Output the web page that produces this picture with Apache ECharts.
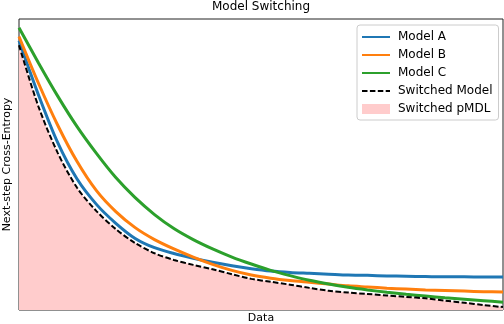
<!DOCTYPE html>
<html>
<head>
<meta charset="utf-8">
<script src="https://cdn.jsdelivr.net/npm/echarts@6/dist/echarts.min.js"></script>
<style>
  html, body { margin: 0; padding: 0; background: #fff; }
  #main { width: 504px; height: 324px; }
</style>
</head>
<body>
<div id="main"></div>
<script>
  // amount of data seen (x), arbitrary units 0..100
  var xs = [0, 4, 8, 12, 16, 20, 24, 28, 32, 36, 40, 44, 48, 52, 56, 60, 64, 68, 72, 76, 80, 84, 88, 92, 96, 100]
  // next-step cross-entropy, arbitrary units 0..100
  var modelA = [92.5, 74, 57.5, 45, 36.3, 29.8, 24.6, 21.4, 19.4, 17.8, 16.4, 15.2, 14.2, 13.4, 12.9, 12.6, 12.3, 12.0, 11.9, 11.7, 11.6, 11.5, 11.4, 11.4, 11.3, 11.3]
  var modelB = [94, 78, 63.5, 51, 41, 33.8, 28.3, 24.2, 21, 18.2, 15.7, 13.6, 12, 10.9, 10.1, 9.5, 8.9, 8.3, 7.9, 7.5, 7.2, 6.9, 6.7, 6.5, 6.3, 6.2]
  var modelC = [97, 85, 73.5, 63, 53.8, 45.5, 38.6, 32.8, 28, 24.2, 21, 18.2, 15.8, 13.6, 11.8, 10.2, 8.9, 7.8, 6.9, 6.1, 5.4, 4.8, 4.2, 3.7, 3.2, 2.7]
  var switched = [91, 70, 54, 42, 34, 27.8, 23, 19.5, 17.2, 15.5, 14, 12.3, 10.7, 9.7, 8.7, 7.6, 6.6, 6.0, 5.5, 5.0, 4.5, 4.0, 3.2, 2.5, 1.7, 1.0]

  function pairs(ys) {
    var out = []
    for (var i = 0; i < xs.length; i++) out.push([xs[i], ys[i]])
    return out
  }

  var chart = echarts.init(document.getElementById('main'))
  var font = 'DejaVu Sans'
  var hideDot = { opacity: 0 }

  var option = {
    animation: false,
    textStyle: { fontFamily: font },
    title: {
      text: 'Model Switching',
      left: 261,
      textAlign: 'center',
      top: 1,
      padding: 0,
      textStyle: { fontFamily: font, fontSize: 12, fontWeight: 'normal', color: '#000' },
    },
    legend: {
      orient: 'vertical',
      left: 357,
      top: 25,
      padding: [6, 6, 5, 4],
      itemWidth: 28,
      itemHeight: 10,
      itemGap: 6,
      backgroundColor: '#fff',
      borderColor: '#cccccc',
      borderWidth: 1,
      borderRadius: 3,
      textStyle: { fontFamily: font, fontSize: 12, color: '#000', padding: [0, 0, 0, 3] },
      data: [
        { name: 'Model A', itemStyle: hideDot },
        { name: 'Model B', itemStyle: hideDot },
        { name: 'Model C', itemStyle: hideDot },
        { name: 'Switched Model', itemStyle: hideDot },
        { name: 'Switched pMDL', icon: 'rect', itemStyle: { color: '#ffcccc', borderWidth: 0 } },
      ],
    },
    grid: {
      left: 19,
      right: 1,
      top: 19,
      bottom: 14,
      outerBoundsMode: 'none',
      show: true,
      borderColor: '#222',
      borderWidth: 1,
    },
    xAxis: {
      type: 'value',
      min: 0,
      max: 100,
      name: 'Data',
      nameLocation: 'middle',
      nameGap: 3,
      nameTextStyle: { fontFamily: font, fontSize: 11, color: '#000', verticalAlign: 'top' },
      axisLine: { show: false },
      axisTick: { show: false },
      axisLabel: { show: false },
      splitLine: { show: false },
    },
    yAxis: {
      type: 'value',
      min: 0,
      max: 100,
      name: 'Next-step Cross-Entropy',
      nameLocation: 'middle',
      nameGap: 6,
      nameTextStyle: { fontFamily: font, fontSize: 11, color: '#000' },
      axisLine: { show: false },
      axisTick: { show: false },
      axisLabel: { show: false },
      splitLine: { show: false },
    },
    series: [
      {
        name: 'Switched pMDL',
        type: 'line',
        smooth: 0.3,
        symbol: 'none',
        itemStyle: { color: '#ffcccc' },
        lineStyle: { width: 0, opacity: 0 },
        areaStyle: { color: '#ffcccc', opacity: 1 },
        z: 1,
        data: pairs(switched),
      },
      {
        name: 'Model A',
        type: 'line',
        smooth: 0.3,
        symbol: 'none',
        itemStyle: { color: '#1f77b4' },
        lineStyle: { color: '#1f77b4', width: 3 },
        z: 2,
        data: pairs(modelA),
      },
      {
        name: 'Model B',
        type: 'line',
        smooth: 0.3,
        symbol: 'none',
        itemStyle: { color: '#ff7f0e' },
        lineStyle: { color: '#ff7f0e', width: 3 },
        z: 3,
        data: pairs(modelB),
      },
      {
        name: 'Model C',
        type: 'line',
        smooth: 0.3,
        symbol: 'none',
        itemStyle: { color: '#2ca02c' },
        lineStyle: { color: '#2ca02c', width: 3 },
        z: 4,
        data: pairs(modelC),
      },
      {
        name: 'Switched Model',
        type: 'line',
        smooth: 0.3,
        symbol: 'none',
        itemStyle: { color: '#000' },
        lineStyle: { color: '#000', width: 2, type: [5.5, 2.4] },
        z: 5,
        data: pairs(switched),
      },
    ],
  }
  chart.setOption(option)
</script>
</body>
</html>
